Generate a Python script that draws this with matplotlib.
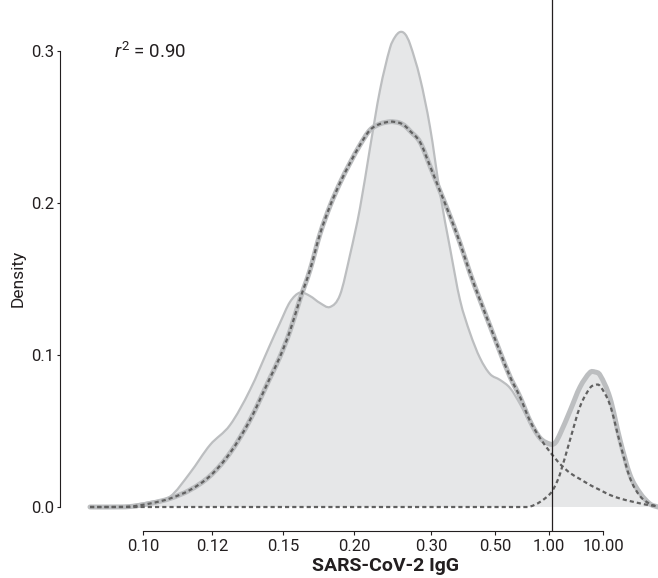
import numpy as np
import matplotlib
matplotlib.use("Agg")
import matplotlib.pyplot as plt
from matplotlib.path import Path
from matplotlib.patches import PathPatch

plt.rcParams["font.family"] = ["Roboto", "DejaVu Sans"]
plt.rcParams["mathtext.fontset"] = "custom"
plt.rcParams["mathtext.rm"] = "Roboto"
plt.rcParams["mathtext.it"] = "Roboto:italic"
plt.rcParams["lines.scale_dashes"] = False

# position along the (non-linear) SARS-CoV-2 IgG axis
x_pos = [90, 110, 130, 150, 170, 190, 210, 230, 250, 270, 280, 290, 300, 310,
         320, 330, 340, 350, 360, 370, 380, 390, 395, 400, 405, 410, 420, 430,
         440, 450, 460, 470, 480, 490, 500, 510, 520, 530, 540, 550, 555, 560,
         570, 580, 590, 595, 600, 610, 620, 630, 640, 650, 658]

# observed density (filled)
observed = [0.0, 0.0001, 0.0010, 0.0033, 0.0068, 0.0224, 0.0408, 0.0539, 0.0770,
            0.1066, 0.1211, 0.1349, 0.1411, 0.1388, 0.1342, 0.1316, 0.1395,
            0.1658, 0.1967, 0.2362, 0.2743, 0.3020, 0.3092, 0.3125, 0.3112,
            0.3046, 0.2822, 0.2500, 0.2066, 0.1704, 0.1362, 0.1145, 0.0980,
            0.0875, 0.0836, 0.0783, 0.0678, 0.0553, 0.0454, 0.0414, 0.0421,
            0.0480, 0.0632, 0.0789, 0.0885, 0.0888, 0.0868, 0.0717, 0.0441,
            0.0211, 0.0092, 0.0020, 0.0]

# fitted mixture (sum of the two components)
mixture = [0.0, 0.0, 0.0003, 0.0023, 0.0056, 0.0112, 0.0204, 0.0355, 0.0572,
           0.0849, 0.0989, 0.1158, 0.1368, 0.1559, 0.1796, 0.1980, 0.2132,
           0.2263, 0.2382, 0.2480, 0.2520, 0.2535, 0.2533, 0.2526, 0.2507,
           0.2474, 0.2401, 0.2243, 0.2079, 0.1914, 0.1737, 0.1539, 0.1362,
           0.1191, 0.1020, 0.0857, 0.0724, 0.0566, 0.0454, 0.0414, 0.0421,
           0.0480, 0.0632, 0.0789, 0.0885, 0.0888, 0.0868, 0.0717, 0.0441,
           0.0211, 0.0092, 0.0020, 0.0]

# component 1 (negative population)
comp1 = [0.0, 0.0, 0.0003, 0.0023, 0.0056, 0.0112, 0.0204, 0.0355, 0.0572,
         0.0849, 0.0989, 0.1158, 0.1368, 0.1559, 0.1796, 0.1980, 0.2132,
         0.2263, 0.2382, 0.2480, 0.2520, 0.2535, 0.2533, 0.2526, 0.2507,
         0.2474, 0.2401, 0.2243, 0.2079, 0.1914, 0.1737, 0.1539, 0.1362,
         0.1191, 0.1020, 0.0857, 0.0724, 0.0566, 0.0454, 0.0362, 0.0322,
         0.0283, 0.0224, 0.0184, 0.0145, 0.0128, 0.0112, 0.0079, 0.0056,
         0.0039, 0.0024, 0.0011, 0.0007]

# component 2 (positive population)
comp2 = [0.0, 0.0, 0.0, 0.0, 0.0, 0.0, 0.0, 0.0, 0.0, 0.0, 0.0, 0.0, 0.0, 0.0,
         0.0, 0.0, 0.0, 0.0, 0.0, 0.0, 0.0, 0.0, 0.0, 0.0, 0.0, 0.0, 0.0, 0.0,
         0.0, 0.0, 0.0, 0.0, 0.0, 0.0, 0.0, 0.0, 0.0, 0.0003, 0.0033, 0.0086,
         0.0138, 0.0217, 0.0441, 0.0660, 0.0783, 0.0803, 0.0796, 0.0671,
         0.0421, 0.0191, 0.0072, 0.0020, 0.0]

tick_pos = [143, 212, 283, 354, 431, 495, 549, 603]
tick_labels = ["0.10", "0.12", "0.15", "0.20", "0.30", "0.50", "1.00", "10.00"]
cutoff_pos = 552
y_ticks = [0.0, 0.1, 0.2, 0.3]
y_tick_labels = ["0.0", "0.1", "0.2", "0.3"]
r2_text = "0.90"


def smooth_path(xs, ys, close_to_baseline=False):
    """Cubic Hermite Bezier path through the given data points."""
    xs = np.asarray(xs, float)
    ys = np.asarray(ys, float)
    n = len(xs)
    m = np.zeros(n)
    m[1:-1] = (ys[2:] - ys[:-2]) / (xs[2:] - xs[:-2])
    m[0] = (ys[1] - ys[0]) / (xs[1] - xs[0])
    m[-1] = (ys[-1] - ys[-2]) / (xs[-1] - xs[-2])
    verts = [(xs[0], ys[0])]
    codes = [Path.MOVETO]
    for i in range(n - 1):
        dx = xs[i + 1] - xs[i]
        verts += [(xs[i] + dx / 3, ys[i] + m[i] * dx / 3),
                  (xs[i + 1] - dx / 3, ys[i + 1] - m[i + 1] * dx / 3),
                  (xs[i + 1], ys[i + 1])]
        codes += [Path.CURVE4] * 3
    if close_to_baseline:
        verts += [(xs[-1], 0.0), (xs[0], 0.0), (xs[0], ys[0])]
        codes += [Path.LINETO, Path.LINETO, Path.CLOSEPOLY]
    return Path(verts, codes)


W, H = 658, 578
fig = plt.figure(figsize=(W / 100, H / 100), dpi=100)
ax = fig.add_axes([60 / W, 47 / H, (W - 60) / W, 531 / H])
ax.set_xlim(60, 658)
ax.set_ylim(-24 / 1520, 507 / 1520)

ink = "#231f20"
ax.add_patch(PathPatch(smooth_path(x_pos, observed, True), facecolor="#e6e7e8",
                       edgecolor="none", lw=0, zorder=1))
ax.add_patch(PathPatch(smooth_path(x_pos, observed), facecolor="none",
                       edgecolor="#bcbec0", lw=1.6, zorder=2))
ax.add_patch(PathPatch(smooth_path(x_pos, mixture), facecolor="none",
                       edgecolor="#bcbec0", lw=3.6, zorder=3, capstyle="round"))
dash = (0, (3.0, 2.2))
ax.add_patch(PathPatch(smooth_path(x_pos, comp1), facecolor="none",
                       edgecolor="#616161", lw=1.6, ls=dash, zorder=4))
ax.add_patch(PathPatch(smooth_path(x_pos, comp2), facecolor="none",
                       edgecolor="#616161", lw=1.6, ls=dash, zorder=4))
ax.axvline(cutoff_pos, color=ink, lw=0.9, zorder=5)

for s in ["top", "right"]:
    ax.spines[s].set_visible(False)
for s in ["left", "bottom"]:
    ax.spines[s].set_linewidth(0.8)
    ax.spines[s].set_color(ink)
ax.spines["left"].set_bounds(0, 0.3)
ax.spines["bottom"].set_bounds(tick_pos[0], tick_pos[-1])

ax.set_xticks(tick_pos)
ax.set_xticklabels(tick_labels)
ax.set_yticks(y_ticks)
ax.set_yticklabels(y_tick_labels)
ax.tick_params(axis="x", length=3, width=0.8, color=ink, pad=2.5, labelsize=12,
               labelcolor=ink)
ax.tick_params(axis="y", length=2.5, width=0.8, color=ink, pad=1.5, labelsize=12,
               labelcolor=ink)

fig.text(18 / W, 1 - 278 / H, "Density", rotation=90, ha="center", va="center",
         fontsize=12.5, color=ink)
fig.text(385.5 / W, 1 - 571 / H, "SARS-CoV-2 IgG", ha="center", va="baseline",
         fontsize=14, fontweight="bold", color=ink)
fig.text(114 / W, 1 - 58 / H, r"$r^2$ = " + r2_text, ha="left", va="baseline",
         fontsize=13.5, color=ink)

fig.savefig("out.png", dpi=100)
